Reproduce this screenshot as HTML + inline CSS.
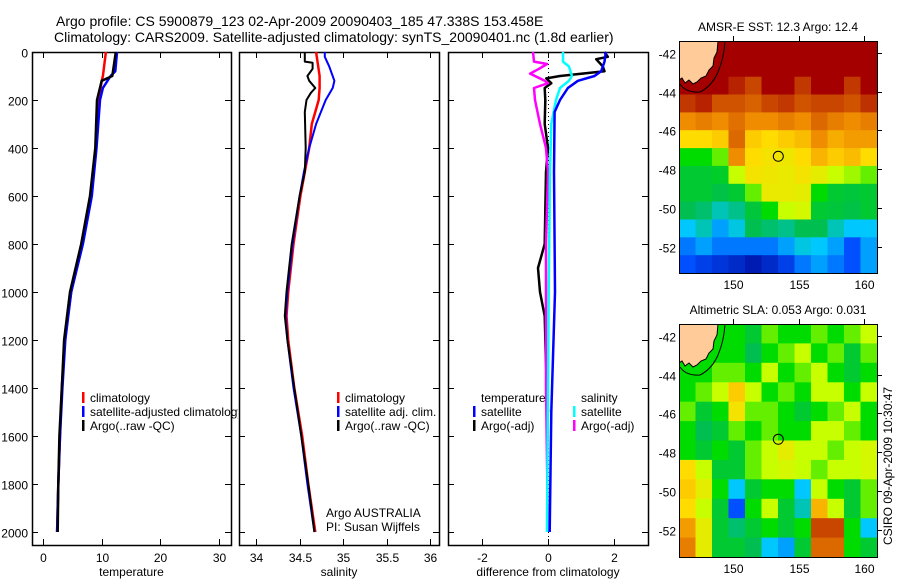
<!DOCTYPE html>
<html><head><meta charset="utf-8"><style>
body{margin:0;background:#fff;}
svg{display:block;font-family:"Liberation Sans",sans-serif;}
</style></head><body>
<svg id="c" width="900" height="580" viewBox="0 0 900 580" xmlns="http://www.w3.org/2000/svg">
<defs>
<clipPath id="cp1"><rect x="32" y="52" width="206" height="493"/></clipPath>
<clipPath id="m1"><rect x="679" y="41" width="198" height="232"/></clipPath>
<clipPath id="m2"><rect x="679" y="324" width="198" height="233"/></clipPath>
</defs>
<text x="56" y="26" font-size="14">Argo profile: CS 5900879_123 02-Apr-2009 20090403_185 47.338S 153.458E</text>
<text x="54" y="42" font-size="14">Climatology: CARS2009. Satellite-adjusted climatology: synTS_20090401.nc (1.8d earlier)</text>
<g id="g"></g>
<text transform="translate(892,545) rotate(-90)" font-size="12">CSIRO 09-Apr-2009 10:30:47</text>
</svg>
<script>
const NS="http://www.w3.org/2000/svg";
const G=document.getElementById('g');
function mk(t,a,p){const e=document.createElementNS(NS,t);for(const k in a)e.setAttribute(k,a[k]);(p||G).appendChild(e);return e;}
function tx(x,y,s,anchor,fs,p){const e=mk('text',{x:x,y:y,'font-size':fs||12,'text-anchor':anchor||'start'},p);e.textContent=s;return e;}

// ---- profile data ----
const depthTicks=[0,200,400,600,800,1000,1200,1400,1600,1800,2000];
const tempTicks=[0,10,20,30];
const salTicks=[34,34.5,35,35.5,36];
const diffTicks=[-2,0,2];
const tClimD=[0,100,120,200,400,600,800,1000,1200,1400,1600,1800,2000];
const tClimV=[10.7,10.2,10.0,9.5,9.0,8.2,6.7,4.8,3.7,3.2,2.9,2.6,2.4];
const tSatD=[0,80,100,150,200,400,600,800,1000,1200,1400,1600,1800,2000];
const tSatV=[12.6,12.3,11.5,10.2,9.7,9.1,8.3,6.8,4.8,3.8,3.3,2.9,2.6,2.4];
const tArgoD=[0,100,120,200,400,600,800,1000,1200,1400,1600,1800,2000];
const tArgoV=[12.4,11.8,10.0,9.2,8.9,8.0,6.5,4.6,3.6,3.2,2.8,2.6,2.5];
const sClimD=[0,100,150,200,300,400,500,600,800,1000,1100,1200,1400,1600,1800,2000];
const sClimV=[34.69,34.73,34.73,34.72,34.64,34.61,34.56,34.51,34.43,34.37,34.35,34.37,34.44,34.53,34.6,34.68];
const sSatD=[0,20,60,120,150,200,300,400,500,600,800,1000,1100,1200,1400,1600,1800,2000];
const sSatV=[34.79,34.79,34.84,34.9,34.88,34.8,34.69,34.61,34.55,34.5,34.42,34.36,34.34,34.36,34.43,34.52,34.59,34.67];
const sArgoD=[0,40,45,70,100,120,150,170,200,250,400,500,600,800,1000,1100,1200,1400,1600,1800,2000];
const sArgoV=[34.56,34.56,34.65,34.65,34.59,34.61,34.68,34.63,34.58,34.56,34.57,34.56,34.5,34.41,34.35,34.33,34.36,34.44,34.52,34.6,34.67];
const dTSatD=[0,40,80,100,120,150,200,250,500,1000,1500,2000];
const dTSatV=[1.74,1.7,1.6,1.4,0.9,0.6,0.36,0.2,0.18,0.21,0.1,0.05];
const dTArgoD=[0,20,30,60,80,100,110,130,150,200,300,400,500,800,900,1000,1100,1300,1500];
const dTArgoV=[1.7,1.8,1.45,1.65,1.7,0.36,-0.05,0.1,-0.1,-0.08,-0.1,0,-0.06,-0.1,-0.3,-0.24,-0.1,-0.06,0];
const dSSatD=[0,40,60,100,120,150,200,300,500,1000,2000];
const dSSatV=[0.45,0.45,0.63,0.72,0.63,0.36,0.24,0.1,0.06,0.02,-0.03];
const dSArgoD=[0,40,50,70,90,120,130,150,200,300,400,500,800,1400,2000];
const dSArgoV=[-0.45,-0.42,-0.03,-0.27,-0.54,-0.1,0,-0.42,-0.39,-0.24,-0.06,0,-0.06,-0.06,0];

const yD=d=>52+d*0.24;
const panels=[
 {x0:32,x1:231,v0:-1.87,v1:32.0,ticks:tempTicks,label:'temperature'},
 {x0:239,x1:439,v0:33.805,v1:36.1,ticks:salTicks,label:'salinity'},
 {x0:448,x1:648,v0:-3.01,v1:3.01,ticks:diffTicks,label:'difference from climatology'}
];
const names=['temperature-panel','salinity-panel','difference-panel'];
panels.forEach((p,i)=>{
 p.fx=v=>p.x0+(v-p.v0)/(p.v1-p.v0)*(p.x1-p.x0);
 const grp=mk('g',{});
 
 
 p.g=grp;
 const r=mk('rect',{x:p.x0+0.5,y:52.5,width:p.x1-p.x0,height:493,fill:'#fff',stroke:'#000','stroke-width':1.5},grp);
 
 
 p.ticks.forEach(t=>{const x=Math.round(p.fx(t))+0.5;
  mk('line',{x1:x,x2:x,y1:545,y2:539,stroke:'#000'},grp);
  mk('line',{x1:x,x2:x,y1:52,y2:58,stroke:'#000'},grp);
  const l=tx(x,562,String(t),'middle',12,grp);
  
  });
 depthTicks.forEach(d=>{const y=Math.round(yD(d))+0.5;
  mk('line',{x1:p.x0,x2:p.x0+6,y1:y,y2:y,stroke:'#000'},grp);
  mk('line',{x1:p.x1,x2:p.x1-6,y1:y,y2:y,stroke:'#000'},grp);
  if(i==0){const l=tx(28,y+5,String(d),'end',12,grp);
   
   }});
 const xl=tx((p.x0+p.x1)/2,576,p.label,'middle',12,grp);
 
 
});
function line(p,D,V,col,w,name){
 const pts=D.map((d,k)=>p.fx(V[k]).toFixed(1)+','+yD(d).toFixed(1)).join(' ');
 const e=mk('polyline',{points:pts,fill:'none',stroke:col,'stroke-width':w,'stroke-linejoin':'round'},p.g);
 
 
}
const P1=panels[0],P2=panels[1],P3=panels[2];
mk('line',{x1:548.5,x2:548.5,y1:52,y2:545,stroke:'#000','stroke-dasharray':'1,3'},P3.g);
line(P1,tClimD,tClimV,'#f00',2.5,'temp-climatology-line');
line(P1,tSatD,tSatV,'#00f',2.5,'temp-satellite-line');
line(P1,tArgoD,tArgoV,'#000',2.5,'temp-argo-line');
line(P2,sClimD,sClimV,'#f00',2.5,'sal-climatology-line');
line(P2,sSatD,sSatV,'#00f',2,'sal-satellite-line');
line(P2,sArgoD,sArgoV,'#000',2,'sal-argo-line');
line(P3,dTArgoD,dTArgoV,'#000',2.5,'diff-temp-argo-line');
line(P3,dSArgoD,dSArgoV,'#f0f',2.5,'diff-sal-argo-line');
line(P3,dSSatD,dSSatV,'#0ff',2.5,'diff-sal-satellite-line');
line(P3,dTSatD,dTSatV,'#00f',2.5,'diff-temp-satellite-line');

function legend(g,x,y,items,clip){
 const lg=mk('g',clip?{'clip-path':clip}:{},g);
 
 
 items.forEach((it,k)=>{const yy=y+k*14;
  if(it[1])mk('rect',{x:x,y:yy-10,width:2.5,height:11,fill:it[1]},lg);
  const t=tx(x+8,yy,it[0],'start',12,lg);
  
  });
}
legend(G,82,402,[['climatology','#f00'],['satellite-adjusted climatology','#00f'],['Argo(..raw -QC)','#000']],'url(#cp1)');
legend(P2.g,337,402,[['climatology','#f00'],['satellite adj. clim.','#00f'],['Argo(..raw -QC)','#000']]);
legend(P3.g,473,402,[['temperature',null],['satellite','#00f'],['Argo(-adj)','#000']]);
legend(P3.g,573,402,[['salinity',null],['satellite','#0ff'],['Argo(-adj)','#f0f']]);
const ag=tx(326,517,'Argo AUSTRALIA','start',12,P2.g);

const pi=tx(326,531,'PI: Susan Wijffels','start',12,P2.g);


// ---- maps ----
const lonTicks=[150,155,160];
const latTicks=[-42,-44,-46,-48,-50,-52];
const argoLon=153.458, argoLat=-47.338;
const sstGrid=[
[1,1,1,1,1,1,1,1,1,1,1,1],
[1,1,1,1,1,1,1,1,1,1,1,1],
[1,1,1,.95,.9,1,1,.92,1,1,.92,1],
[.92,.95,.88,.88,.86,.9,.92,.88,.9,.9,.88,.93],
[.8,.82,.8,.84,.8,.8,.82,.8,.85,.82,.8,.82],
[.7,.7,.72,.85,.72,.7,.72,.74,.8,.76,.78,.78],
[.5,.5,.55,.8,.7,.68,.67,.7,.75,.72,.74,.7],
[.45,.45,.46,.6,.68,.67,.66,.68,.65,.6,.58,.55],
[.45,.45,.43,.45,.55,.66,.66,.65,.5,.45,.44,.45],
[.42,.40,.35,.38,.44,.5,.6,.62,.45,.44,.43,.45],
[.3,.35,.25,.32,.42,.4,.38,.42,.42,.35,.3,.3],
[.2,.25,.2,.2,.2,.2,.25,.32,.3,.25,.15,.25],
[.15,.12,.1,.08,.05,.08,.12,.2,.25,.2,.15,.25]];
const slaGrid=[
[.5,.5,.5,.5,.45,.55,.5,.5,.55,.5,.55,.6],
[.5,.5,.5,.5,.42,.5,.55,.6,.5,.55,.45,.55],
[.5,.5,.55,.55,.5,.6,.5,.55,.6,.5,.45,.5],
[.5,.55,.6,.72,.6,.5,.55,.5,.6,.6,.5,.6],
[.55,.45,.5,.68,.55,.55,.5,.45,.5,.55,.6,.5],
[.5,.42,.45,.55,.5,.55,.5,.5,.6,.6,.55,.5],
[.5,.45,.5,.45,.55,.6,.65,.6,.6,.55,.6,.62],
[.7,.6,.45,.45,.55,.6,.62,.6,.55,.6,.6,.62],
[.72,.65,.5,.3,.45,.5,.5,.3,.6,.5,.45,.55],
[.7,.6,.45,.15,.5,.6,.45,.35,.75,.6,.45,.55],
[.78,.65,.45,.4,.45,.5,.45,.5,.9,.9,.5,.3],
[.82,.65,.45,.45,.42,.3,.25,.45,.85,.85,.5,.45]];
const stops=[[0,[0,0,140]],[.15,[0,80,255]],[.3,[0,200,255]],[.42,[0,190,80]],[.5,[0,220,0]],[.6,[200,255,0]],[.7,[255,220,0]],[.8,[240,140,0]],[.9,[200,70,0]],[1,[165,0,0]]];
function cmap(v){for(let i=1;i<stops.length;i++){if(v<=stops[i][0]){const a=stops[i-1],b=stops[i],t=(v-a[0])/(b[0]-a[0]);
 return 'rgb('+a[1].map((c,k)=>Math.round(c+(b[1][k]-c)*t)).join(',')+')';}}return 'rgb(165,0,0)';}
function map(y0,h,grid,title,clip,name){
 const mg=mk('g',{});
 
 
 const x0=679,w=198;
 const fx=lon=>733+(lon-150)*13.1;
 const fy=lat=>y0+12+(-42-lat)*19.35;
 const cg=mk('g',{'clip-path':clip},mg);
 const rows=grid.length,cols=grid[0].length,cw=w/cols,ch=h/rows;
 grid.forEach((r,i)=>r.forEach((v,j)=>{
  const c=mk('rect',{x:(x0+j*cw).toFixed(1),y:(y0+i*ch).toFixed(1),width:(cw+0.6).toFixed(1),height:(ch+0.6).toFixed(1),fill:cmap(v)},cg);
  
  }));
 const d=y0-41;
 const land=mk('polygon',{points:[[679,41],[718,41],[717,52],[714,58],[713,66],[709,70],[706,76],[701,78],[697,82],[693,84],[689,80],[685,83],[682,78],[679,80]].map(p=>p[0]+','+(p[1]+d)).join(' '),fill:'#ffcc99',stroke:'#000','stroke-width':1},cg);
 
 
 mk('path',{d:`M680 ${84+d} Q686 ${93+d} 700 ${92+d} Q712 ${86+d} 718 ${72+d} Q724 ${58+d} 725 ${41+d}`,fill:'none',stroke:'#000'},cg);
 const ci=mk('circle',{cx:fx(argoLon),cy:fy(argoLat),r:5,fill:'none',stroke:'#000'},mg);
 
 
 mk('rect',{x:x0+0.5,y:y0+0.5,width:w,height:h,fill:'none',stroke:'#000'},mg);
 lonTicks.forEach(l=>{const x=Math.round(fx(l))+0.5;
  mk('line',{x1:x,x2:x,y1:y0,y2:y0-5,stroke:'#000'},mg);
  const t=tx(x,y0+h+16,String(l),'middle',12,mg);
  });
 latTicks.forEach(l=>{const y=Math.round(fy(l))+0.5;
  mk('line',{x1:x0+w,x2:x0+w+5,y1:y,y2:y,stroke:'#000'},mg);
  const t=tx(676,y+5,String(l),'end',12,mg);
  });
 const tt=tx(x0+w/2,y0-10,title,'middle',12,mg);
 
}
map(41,232,sstGrid,'AMSR-E SST: 12.3 Argo: 12.4','url(#m1)','sst-map');
map(324,233,slaGrid,'Altimetric SLA: 0.053 Argo: 0.031','url(#m2)','sla-map');
</script>
</body></html>
